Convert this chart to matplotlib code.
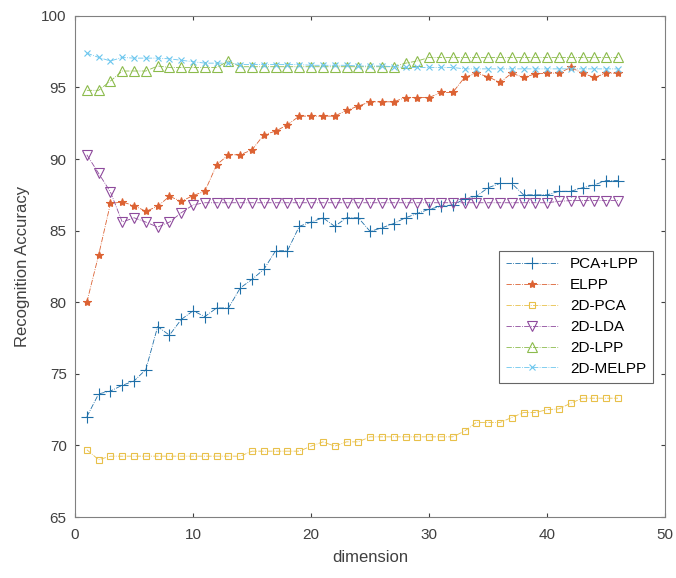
import matplotlib
matplotlib.use("Agg")
import matplotlib.pyplot as plt

plt.rcParams["font.family"] = ["Liberation Sans", "DejaVu Sans"]

dims = list(range(1, 47))

pca_lpp = [72.0, 73.6, 73.8, 74.2, 74.5, 75.3, 78.3, 77.7, 78.8, 79.4,
           79.0, 79.6, 79.6, 81.0, 81.6, 82.3, 83.6, 83.6, 85.3, 85.6,
           85.9, 85.3, 85.9, 85.9, 84.95, 85.2, 85.5, 85.9, 86.2, 86.5,
           86.7, 86.8, 87.2, 87.4, 88.0, 88.3, 88.3, 87.5, 87.5, 87.5,
           87.75, 87.75, 88.0, 88.2, 88.5, 88.5]
elpp = [80.0, 83.3, 86.9, 87.0, 86.75, 86.35, 86.7, 87.4, 87.05, 87.45,
        87.75, 89.6, 90.3, 90.3, 90.65, 91.7, 91.95, 92.4, 93.0, 93.0,
        93.0, 93.0, 93.4, 93.7, 94.0, 94.0, 94.0, 94.3, 94.3, 94.3,
        94.65, 94.65, 95.7, 96.0, 95.75, 95.35, 96.0, 95.7, 95.95, 96.0,
        96.0, 96.4, 96.0, 95.7, 96.0, 96.0]
pca2d = [69.7, 69.0, 69.25, 69.25, 69.25, 69.25, 69.25, 69.25, 69.25, 69.25,
         69.25, 69.25, 69.25, 69.25, 69.6, 69.6, 69.6, 69.6, 69.6, 69.95,
         70.25, 69.95, 70.25, 70.25, 70.6, 70.6, 70.6, 70.6, 70.6, 70.6,
         70.6, 70.6, 71.0, 71.6, 71.6, 71.6, 71.95, 72.3, 72.3, 72.5,
         72.55, 72.95, 73.3, 73.3, 73.3, 73.3]
lda2d = [90.3, 89.0, 87.7, 85.6, 85.9, 85.6, 85.25, 85.6, 86.25, 86.8,
         86.95, 86.95, 86.95, 86.95, 86.95, 86.95, 86.95, 86.95, 86.95, 86.95,
         86.95, 86.95, 86.95, 86.95, 86.95, 86.95, 86.95, 86.95, 86.95, 86.95,
         86.95, 86.95, 86.95, 86.95, 86.95, 86.95, 86.95, 86.95, 86.95, 86.95,
         87.05, 87.1, 87.1, 87.1, 87.1, 87.1]
lpp2d = [94.8, 94.8, 95.45, 96.15, 96.15, 96.15, 96.5, 96.4, 96.4, 96.4,
         96.4, 96.4, 96.85, 96.45, 96.45, 96.45, 96.45, 96.45, 96.45, 96.45,
         96.45, 96.45, 96.45, 96.45, 96.45, 96.45, 96.45, 96.7, 96.85, 97.1,
         97.1, 97.1, 97.1, 97.1, 97.1, 97.1, 97.1, 97.1, 97.1, 97.1,
         97.1, 97.1, 97.1, 97.1, 97.1, 97.1]
melpp2d = [97.4, 97.1, 96.85, 97.1, 97.05, 97.05, 97.05, 97.0, 96.9, 96.8,
           96.7, 96.7, 96.7, 96.6, 96.6, 96.6, 96.6, 96.6, 96.6, 96.55,
           96.55, 96.55, 96.55, 96.5, 96.5, 96.5, 96.45, 96.4, 96.4, 96.4,
           96.4, 96.4, 96.3, 96.3, 96.3, 96.3, 96.3, 96.3, 96.3, 96.3,
           96.3, 96.3, 96.3, 96.3, 96.3, 96.3]

labels = ["PCA+LPP", "ELPP", "2D-PCA", "2D-LDA", "2D-LPP", "2D-MELPP"]
colors = ["#1f6fa8", "#dc6233", "#e8c04a", "#8e4a9c", "#8cbb4c", "#6cc6ee"]
markers = ["+", "*", "s", "v", "^", "x"]
sizes = [9, 6, 5, 7, 7, 5]
series = [pca_lpp, elpp, pca2d, lda2d, lpp2d, melpp2d]

fig = plt.figure(figsize=(6.76, 5.78), dpi=100)
ax = fig.add_axes([0.111, 0.1055, 0.873, 0.867])

for vals, lab, c, m, ms in zip(series, labels, colors, markers, sizes):
    mfc = "none" if m in ("s", "v", "^") else c
    ax.plot(dims, vals, linestyle="-.", linewidth=0.6, color=c, marker=m,
            markersize=ms, markerfacecolor=mfc, markeredgewidth=0.8, label=lab)

ax.set_xlim(0, 50)
ax.set_ylim(65, 100)
ax.set_xticks([0, 10, 20, 30, 40, 50])
ax.set_yticks([65, 70, 75, 80, 85, 90, 95, 100])
ax.tick_params(direction="in", labelsize=11, colors="#404040", top=True, right=True, length=3)
ax.tick_params(axis="x", pad=8)
ax.tick_params(axis="y", pad=6)
for s in ax.spines.values():
    s.set_color("#808080")
ax.set_xlabel("dimension", fontsize=12, color="#404040", labelpad=6)
ax.set_ylabel("Recognition Accuracy", fontsize=12, color="#404040", labelpad=8)

leg = ax.legend(loc="upper right", bbox_to_anchor=(0.992, 0.547), fontsize=11,
                fancybox=False, edgecolor="#404040", handlelength=3.4, borderpad=0.45,
                labelspacing=0.45)
leg.get_frame().set_linewidth(0.8)

fig.savefig("out.png", dpi=100)
